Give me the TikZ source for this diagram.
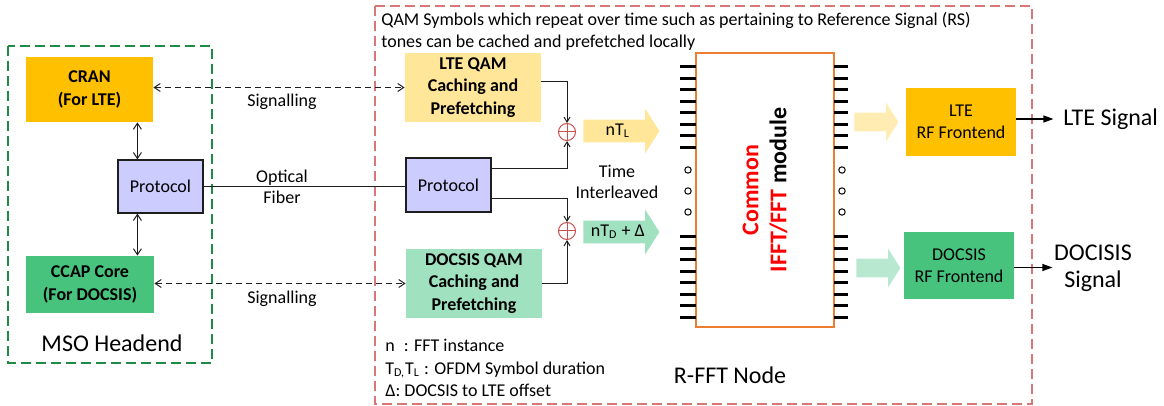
\documentclass[tikz,border=0pt]{standalone}
\usepackage{fontspec}
\setmainfont{Carlito}
\usetikzlibrary{arrows.meta,shapes.arrows}
\definecolor{figline}{RGB}{30,30,30}
\definecolor{figorange}{RGB}{255,192,0}
\definecolor{figyellow}{RGB}{255,230,153}
\definecolor{figgreen}{RGB}{71,195,126}
\definecolor{figmint}{RGB}{160,225,192}
\definecolor{figlav}{RGB}{204,204,255}
\definecolor{figedge}{RGB}{237,125,49}
\definecolor{figgdash}{RGB}{30,140,70}
\definecolor{figrdash}{RGB}{215,120,120}
\definecolor{figsum}{RGB}{200,80,80}
\tikzset{
  blk/.style  ={inner sep=1pt, align=center, font=\fontsize{9}{11.2}\selectfont\bfseries},
  blkn/.style ={inner sep=1pt, align=center, font=\fontsize{9}{11.2}\selectfont},
  lab/.style  ={font=\fontsize{9}{10.5}\selectfont, align=center, inner sep=1pt},
  labl/.style ={font=\fontsize{12}{13.5}\selectfont, align=center, inner sep=1pt},
  sc/.style   ={draw=figline, line width=0.5pt},
  bia/.style  ={sc, {Straight Barb[length=3pt,width=4pt]}-{Straight Barb[length=3pt,width=4pt]}},
  sig/.style  ={bia, dash pattern=on 3pt off 2pt},
  ptr/.style  ={sc, -{Straight Barb[length=2.5pt,width=3pt]}},
  outp/.style ={draw=black, line width=0.6pt, -{Triangle[length=5pt,width=3.5pt]}},
  sumn/.style ={circle, draw=figsum, line width=0.5pt, minimum size=8.5pt, inner sep=0pt,
    path picture={\draw[figsum, line width=0.5pt]
      (path picture bounding box.north) -- (path picture bounding box.south)
      (path picture bounding box.west) -- (path picture bounding box.east);}},
  fat/.style  ={single arrow, single arrow head extend=5.5pt, single arrow tip angle=115,
    minimum height=38pt, text height=6pt, text depth=1pt, inner xsep=2pt, inner ysep=2pt,
    anchor=tail, font=\fontsize{9}{10}\selectfont},
  fats/.style ={single arrow, single arrow head extend=5pt, single arrow tip angle=115,
    minimum height=22pt, text height=5pt, text depth=0pt, inner xsep=1pt, inner ysep=2pt,
    anchor=tail},
  pin/.style  ={draw=black, line width=1.5pt},
}
\begin{document}
\begin{tikzpicture}[x=0.5pt,y=-0.5pt]
  \useasboundingbox (0,0) rectangle (1164,406);
  % frames
  \draw[figgdash, line width=1pt, dash pattern=on 5pt off 2.5pt] (8,46) rectangle (212,363);
  \draw[figrdash, line width=0.75pt, dash pattern=on 5pt off 2.5pt] (375,6) rectangle (1032,404);
  % MSO headend
  \node[blk, fill=figorange, minimum width=63.5pt, minimum height=32.5pt] (cran) at (89.5,89.5) {CRAN\\(For LTE)};
  \node[blkn, fill=figlav, draw=figline, line width=0.6pt, minimum width=42.5pt, minimum height=26.5pt] (protL) at (160.5,186.5) {Protocol};
  \node[blk, fill=figgreen, minimum width=64pt, minimum height=28.5pt] (ccap) at (90,284.5) {CCAP Core\\(For DOCSIS)};
  \node[labl] (mso) at (112,343) {MSO Headend};
  \draw[bia] ([xshift=10pt]protL.north west) -- ([xshift=10pt]protL.north west |- cran.south);
  \draw[bia] ([xshift=10pt]protL.south west) -- ([xshift=10pt]protL.south west |- ccap.north);
  % R-FFT node
  \node[lab, anchor=west, align=left, font=\fontsize{9}{11}\selectfont] (note) at (379,31)
    {QAM Symbols which repeat over time such as pertaining to Reference Signal (RS)\\tones can be cached and prefetched locally};
  \node[blk, fill=figyellow, minimum width=68pt, minimum height=34.5pt] (qamL) at (473,87.5) {LTE QAM\\Caching and\\Prefetching};
  \node[blkn, fill=figlav, draw=figline, line width=0.6pt, minimum width=42.5pt, minimum height=27pt] (protR) at (448.5,185) {Protocol};
  \node[blk, fill=figmint, minimum width=68pt, minimum height=34.5pt] (qamD) at (474,283.5) {DOCSIS QAM\\Caching and\\Prefetching};
  \node[sumn] (sumL) at (567,132) {};
  \node[sumn] (sumD) at (567,231) {};
  \draw[sig] (cran.east |- qamL.west) -- (qamL.west);
  \draw[sig] (ccap.east |- qamD.west) -- (qamD.west);
  \node[lab] (sigL) at (282,102) {Signalling};
  \node[lab] (sigD) at (282,299) {Signalling};
  \draw[sc] (protL.east) -- (protL.east -| protR.west);
  \node[lab] (fiber) at (282,187) {Optical\\Fiber};
  \draw[ptr] ([yshift=3pt]qamL.east) -| (sumL.north);
  \draw[ptr] ([yshift=8pt]protR.east) -| (sumL.south);
  \draw[ptr] ([yshift=-7pt]protR.east) -| (sumD.north);
  \draw[ptr] (qamD.east) -| (sumD.south);
  \node[fat, fill=figyellow] (armL) at (583,131) {nT\textsubscript{L}};
  \node[fat, fill=figmint] (armD) at (583,232) {nT\textsubscript{D} + Δ};
  \node[lab] (ilv) at (617,182) {Time\\Interleaved};
  % IFFT/FFT module
  \node[draw=figedge, line width=1pt, minimum width=69pt, minimum height=137pt, inner sep=0pt] (fft) at (765,190) {};
  \node[rotate=90, align=center, font=\fontsize{12}{14}\selectfont\bfseries] (fftlab) at (fft.center)
    {\textcolor{red}{Common}\\\textcolor{red}{IFFT/FFT} module};
  \foreach \i in {0,...,7} {
    \draw[pin] (680,67+\i*11.43) -- (696,67+\i*11.43);
    \draw[pin] (680,237+\i*11.43) -- (696,237+\i*11.43);
    \draw[pin] (834,67+\i*11.43) -- (848,67+\i*11.43);
    \draw[pin] (834,237+\i*11.43) -- (848,237+\i*11.43);
  }
  \foreach \y in {170,191,212} {
    \draw[line width=0.5pt] (688,\y) circle (1.6pt);
    \draw[line width=0.5pt] (842,\y) circle (1.6pt);
  }
  \node[labl] (rfft) at (730,375) {R-FFT Node};
  \node[lab, anchor=west, align=left, font=\fontsize{9}{11.25}\selectfont] (legend) at (383,368)
    {n\enspace: FFT instance\\T\textsubscript{D,}T\textsubscript{L} : OFDM Symbol duration\\Δ: DOCSIS to LTE offset};
  % RF frontends
  \node[fats, fill=figyellow!75] (armL2) at (854,122) {};
  \node[fats, fill=figmint!75] (armD2) at (856,268) {};
  \node[blkn, fill=figorange, minimum width=55pt, minimum height=34pt] (rfL) at (961,122) {LTE\\RF Frontend};
  \node[blkn, fill=figgreen, minimum width=55pt, minimum height=33.5pt] (rfD) at (959,265.5) {DOCSIS\\RF Frontend};
  \node[labl, anchor=west] (outL) at (1061,119) {LTE Signal};
  \node[labl] (outD) at (1093,268) {DOCISIS\\Signal};
  \draw[outp] ([yshift=1.5pt]rfL.east) -- ++(37,0);
  \draw[outp] ([yshift=-1pt]rfD.east) -- ++(38,0);
\end{tikzpicture}
\end{document}
